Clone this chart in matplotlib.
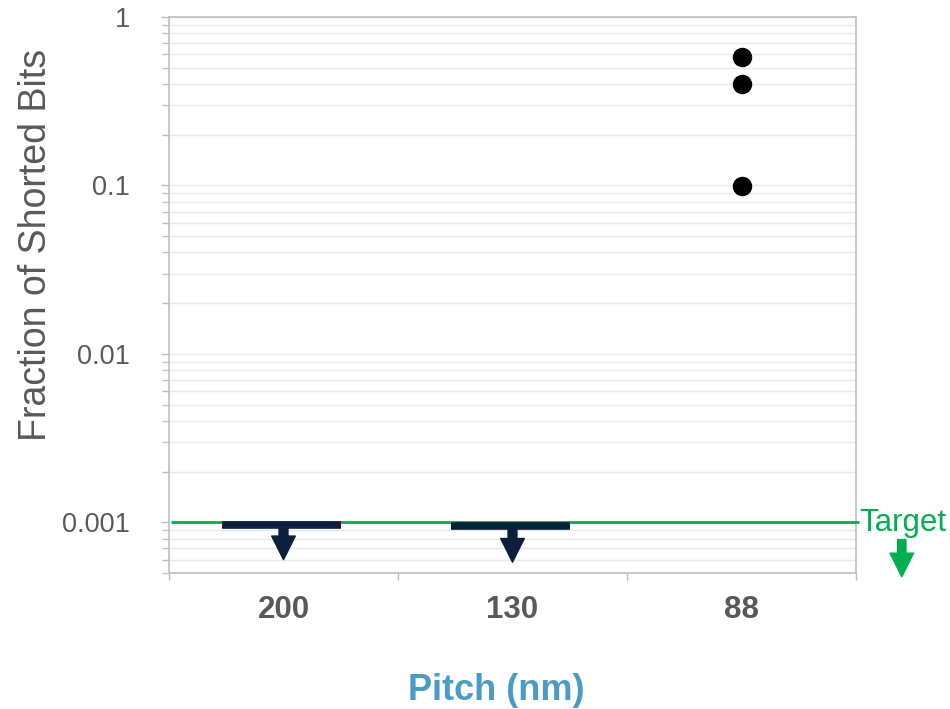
import matplotlib
matplotlib.use("Agg")
import matplotlib.pyplot as plt
import numpy as np
from matplotlib.ticker import LogLocator, FixedLocator, NullFormatter

plt.rcParams['font.family'] = ['Liberation Sans', 'DejaVu Sans']

categories = ["200", "130", "88"]
shorted_88 = [0.58, 0.40, 0.099]
upper_limit_cats = ["200", "130"]
upper_limit_vals = [0.00096, 0.00095]
arrow_tip_vals = [0.00060, 0.00058]
target_value = 0.001
y_ticks = [0.001, 0.01, 0.1, 1]
y_tick_labels = ["0.001", "0.01", "0.1", "1"]

gray_text = "#595959"
navy = "#0b1f3c"
green = "#00b050"
blue = "#4a9cc6"
grid_c = "#e8e8e8"
spine_c = "#bfbfbf"

fig = plt.figure(figsize=(9.5, 7.09), dpi=100)
ax = fig.add_axes([169/950, 1-573/709, (856-169)/950, (573-17)/709])

ax.set_yscale("log")
ax.set_ylim(5e-4, 1)
ax.set_xlim(-0.5, 2.5)

# gridlines
ax.yaxis.set_major_locator(FixedLocator(y_ticks))
ax.set_yticklabels(y_tick_labels)
ax.yaxis.set_minor_locator(LogLocator(base=10, subs=np.arange(2, 10)))
ax.yaxis.set_minor_formatter(NullFormatter())
ax.grid(True, axis="y", which="both", color=grid_c, linewidth=1.0)
ax.set_axisbelow(True)

# x ticks at category boundaries, labels at centers
xpos = np.arange(len(categories))
ax.set_xticks(xpos)
ax.set_xticklabels(categories, fontsize=22.5, fontweight="bold", color=gray_text)
ax.tick_params(axis="x", which="major", length=0, pad=16)
ax.set_xticks(np.arange(-0.5, len(categories)), minor=True)
ax.tick_params(axis="x", which="minor", length=5, color=spine_c, width=1)

ax.tick_params(axis="y", which="major", labelsize=19.5, labelcolor=gray_text,
               length=6, color=spine_c, width=1, pad=22)
ax.tick_params(axis="y", which="minor", length=5, color=spine_c, width=1)

for s in ax.spines.values():
    s.set_color(spine_c)
    s.set_linewidth(1.2)

# target line
ax.hlines(target_value, -0.49, 2.515, color=green, linewidth=2, clip_on=False, zorder=3)
ax.text(2.515, target_value * 0.985, "Target", color=green, fontsize=22.5, va="center", ha="left",
        clip_on=False)
ax.annotate("", xy=(2.70, 4.75e-4), xytext=(2.70, 7.9e-4),
            arrowprops=dict(arrowstyle="simple,head_length=0.85,head_width=0.85,tail_width=0.3",
                            mutation_scale=20, color=green, shrinkA=0, shrinkB=0),
            annotation_clip=False)

# upper limits
for cat, v, tip in zip(upper_limit_cats, upper_limit_vals, arrow_tip_vals):
    x = categories.index(cat)
    ax.hlines(v, x - 0.27, x + 0.25, color=navy, linewidth=5.5, zorder=4)
    ax.annotate("", xy=(x, tip), xytext=(x, v),
                arrowprops=dict(arrowstyle="simple,head_length=0.85,head_width=0.85,tail_width=0.32",
                                mutation_scale=20, color=navy, shrinkA=0, shrinkB=0),
                zorder=4)

# measured points
ax.plot([categories.index("88")] * len(shorted_88), shorted_88, "o", color="black",
        markersize=13, zorder=5)

ax.set_ylabel("Fraction of Shorted Bits", fontsize=27, color=gray_text)
ax.yaxis.set_label_coords(-0.168, 0.59)
ax.set_xlabel("Pitch (nm)", fontsize=26, fontweight="bold", color=blue)
ax.xaxis.set_label_coords(0.476, -0.18)

fig.savefig("out.png", dpi=100)
